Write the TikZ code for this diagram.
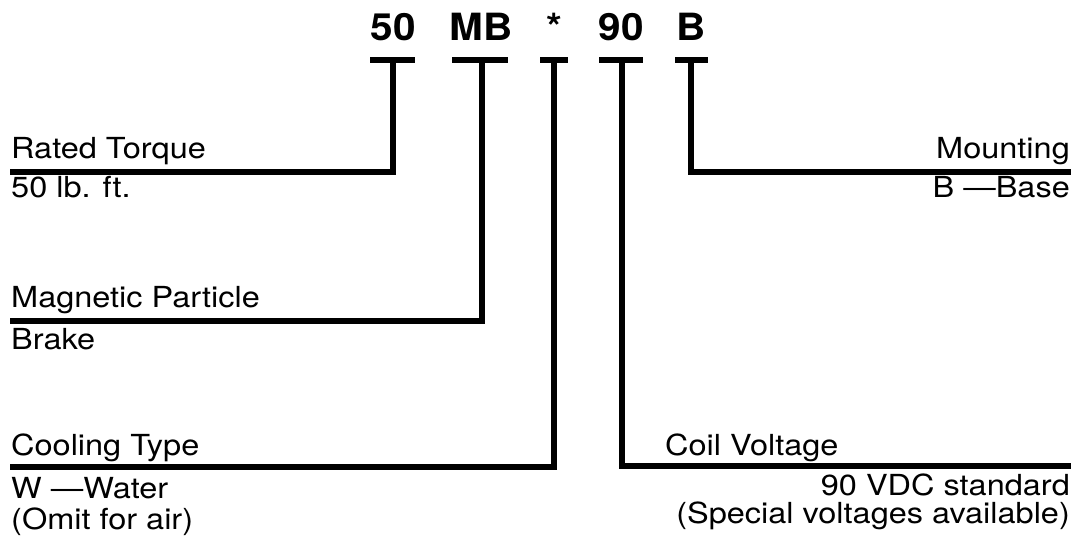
\documentclass[tikz,border=0pt]{standalone}
\usepackage{fontspec}
\setmainfont{TeX Gyre Heros}
\newfontfamily\lblfont[FakeStretch=1.12, Ligatures=TeX]{TeX Gyre Heros}
\newfontfamily\codefont[FakeStretch=1.08, Ligatures=TeX]{TeX Gyre Heros}
\usetikzlibrary{calc}

\begin{document}
\begin{tikzpicture}[x=1pt, y=-1pt,
    % Define the styles for the code, the labels and the leader lines
    code/.style={font=\codefont\fontsize{37.5}{42}\selectfont\bfseries, anchor=base, inner sep=0pt},
    lbl/.style={font=\lblfont\fontsize{29}{34}\selectfont, inner sep=0pt},
    leader/.style={line width=6pt, line join=miter},
    tbar/.style={line width=6.5pt}
]
\useasboundingbox (0,0) rectangle (1081,542);

% Code letters
\node[code] (c50) at (393,40) {50};
\node[code] (cMB) at (481,40) {MB};
\node[code] (cst) at (554,40) {*};
\node[code] (c90) at (621,40) {90};
\node[code] (cB)  at (691,40) {B};

% Tops of the T bars
\coordinate (t50) at (393,60);
\coordinate (tMB) at (482,60);
\coordinate (tst) at (554,60);
\coordinate (t90) at (622,60);
\coordinate (tB)  at (691,60);

% Free ends of the leader lines
\coordinate (e50) at (10,172);
\coordinate (eMB) at (10,321);
\coordinate (est) at (10,467);
\coordinate (e90) at (1071,466);
\coordinate (eB)  at (1071,172);

% Draw the T bars
\draw[tbar] ($(t50)+(-23,0)$) -- ($(t50)+(22,0)$);
\draw[tbar] ($(tMB)+(-30,0)$) -- ($(tMB)+(26,0)$);
\draw[tbar] ($(tst)+(-14,0)$) -- ($(tst)+(14,0)$);
\draw[tbar] ($(t90)+(-23,0)$) -- ($(t90)+(21,0)$);
\draw[tbar] ($(tB)+(-16,0)$) -- ($(tB)+(17,0)$);

% Draw the leader lines
\draw[leader] (t50) |- (e50);
\draw[leader] (tMB) |- (eMB);
\draw[leader] (tst) |- (est);
\draw[leader] (t90) |- (e90);
\draw[leader] (tB)  |- (eB);

% Add the labels
\node[lbl, anchor=base west] (rt)  at (11,158) {Rated Torque};
\node[lbl, anchor=base west] (rtv) at (11,197) {50 lb. ft.};
\node[lbl, anchor=base west] (mp)  at (11,307) {Magnetic Particle};
\node[lbl, anchor=base west] (mpv) at (11,349) {Brake};
\node[lbl, anchor=base west] (ct)  at (11,455) {Cooling Type};
\node[lbl, anchor=base west] (ctv) at (11,498) {W \textemdash{}Water};
\node[lbl, anchor=base west] (cto) at (11,529) {(Omit for air)};
\node[lbl, anchor=base east] (mt)  at (1070,158) {Mounting};
\node[lbl, anchor=base east] (mtv) at (1070,197) {B \textemdash{}Base};
\node[lbl, anchor=base west] (cv)  at (665,455) {Coil Voltage};
\node[lbl, anchor=base east] (cvv) at (1070,495) {90 VDC standard};
\node[lbl, anchor=base east] (cvo) at (1070,523) {(Special voltages available)};

\end{tikzpicture}
\end{document}
